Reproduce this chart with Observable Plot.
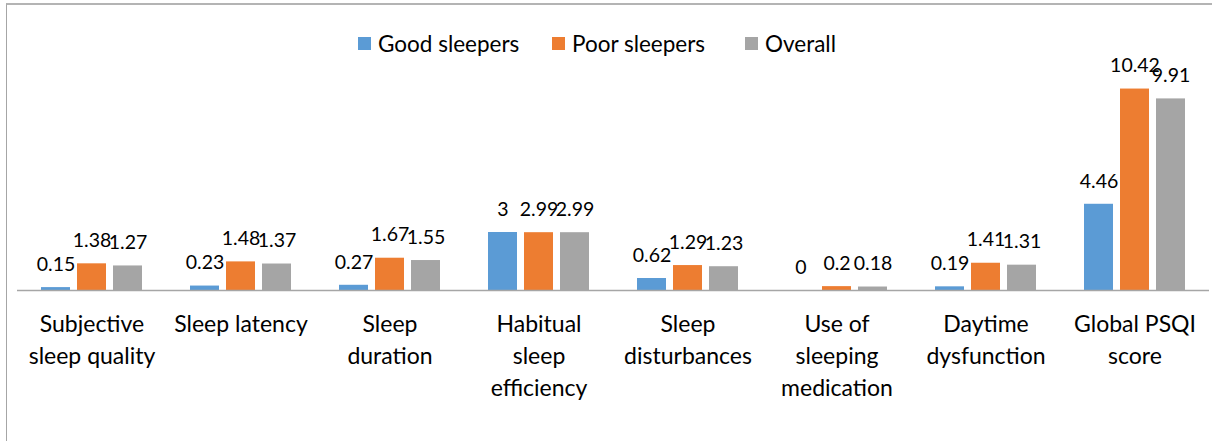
<!DOCTYPE html>
<html>
<head>
<meta charset="utf-8">
<script src="https://cdn.jsdelivr.net/npm/d3@7"></script>
<script src="https://cdn.jsdelivr.net/npm/@observablehq/plot@0.6"></script>
<style>
  html, body { margin: 0; padding: 0; background: #fff; }
  #wrap { position: relative; width: 1212px; height: 441px; overflow: hidden; font-family: Lato, "Open Sans", sans-serif; }
  #frame { position: absolute; left: 6px; top: 3px; width: 1300px; height: 600px; border-left: 1px solid #a6a6a6; border-top: 2px solid #b4b4b4; box-sizing: border-box; }
  #legend { position: relative; height: 55px; }
  .item { position: absolute; top: 30px; display: flex; align-items: center; font-size: 22.5px; color: #000; white-space: nowrap; }
  .sw { width: 13px; height: 13px; display: inline-block; margin-right: 7px; }
  #chart { position: relative; }
</style>
</head>
<body>
<div id="wrap">
  <div id="frame"></div>
  <div id="legend"></div>
  <div id="chart"></div>
</div>
<script>
const categories = ["Subjective sleep quality", "Sleep latency", "Sleep duration", "Habitual sleep efficiency", "Sleep disturbances", "Use of sleeping medication", "Daytime dysfunction", "Global PSQI score"];
const tickLabels = ["Subjective\nsleep quality", "Sleep latency", "Sleep\nduration", "Habitual\nsleep\nefficiency", "Sleep\ndisturbances", "Use of\nsleeping\nmedication", "Daytime\ndysfunction", "Global PSQI\nscore"];
const seriesNames = ["Good sleepers", "Poor sleepers", "Overall"];
const goodSleepers = [0.15, 0.23, 0.27, 3, 0.62, 0, 0.19, 4.46];
const poorSleepers = [1.38, 1.48, 1.67, 2.99, 1.29, 0.2, 1.41, 10.42];
const overall = [1.27, 1.37, 1.55, 2.99, 1.23, 0.18, 1.31, 9.91];
const colors = ["#5b9bd5", "#ed7d31", "#a5a5a5"];

const seriesValues = [goodSleepers, poorSleepers, overall];
const data = [];
categories.forEach((c, i) => {
  seriesNames.forEach((s, j) => {
    data.push({category: c, series: s, value: seriesValues[j][i]});
  });
});

// legend
const legendLeft = [358, 552, 745];
const legend = document.getElementById("legend");
seriesNames.forEach((s, j) => {
  const it = document.createElement("div");
  it.className = "item";
  it.style.left = legendLeft[j] + "px";
  const sw = document.createElement("span");
  sw.className = "sw";
  sw.style.background = colors[j];
  it.appendChild(sw);
  const t = document.createElement("span");
  t.textContent = s;
  it.appendChild(t);
  legend.appendChild(it);
});

const labelMap = new Map(categories.map((c, i) => [c, tickLabels[i]]));

const chart = Plot.plot({
  width: 1212,
  height: 386,
  marginLeft: 15,
  marginRight: 1,
  marginTop: 3,
  marginBottom: 151,
  style: {fontFamily: "Lato, 'Open Sans', sans-serif", background: "transparent", overflow: "visible"},
  fx: {domain: categories, padding: 0, label: null},
  x: {domain: seriesNames, paddingInner: 0.2, paddingOuter: 0.62, axis: null},
  y: {domain: [0, 12], axis: null},
  color: {domain: seriesNames, range: colors},
  marks: [
    Plot.barY(data, {fx: "category", x: "series", y: "value", fill: "series"}),
    Plot.ruleY([0], {stroke: "#a6a6a6", strokeWidth: 1.5}),
    Plot.text(data, {fx: "category", x: "series", y: "value", text: d => String(d.value), dy: -23, fontSize: 19.5, fill: "#000"}),
    Plot.axisFx({anchor: "bottom", tickSize: 0, tickPadding: 19, fontSize: 23, lineHeight: 1.39, tickFormat: c => labelMap.get(c), label: null, textAnchor: "middle", fill: "#000", lineAnchor: "top"})
  ]
});
document.getElementById("chart").appendChild(chart);
</script>
</body>
</html>
